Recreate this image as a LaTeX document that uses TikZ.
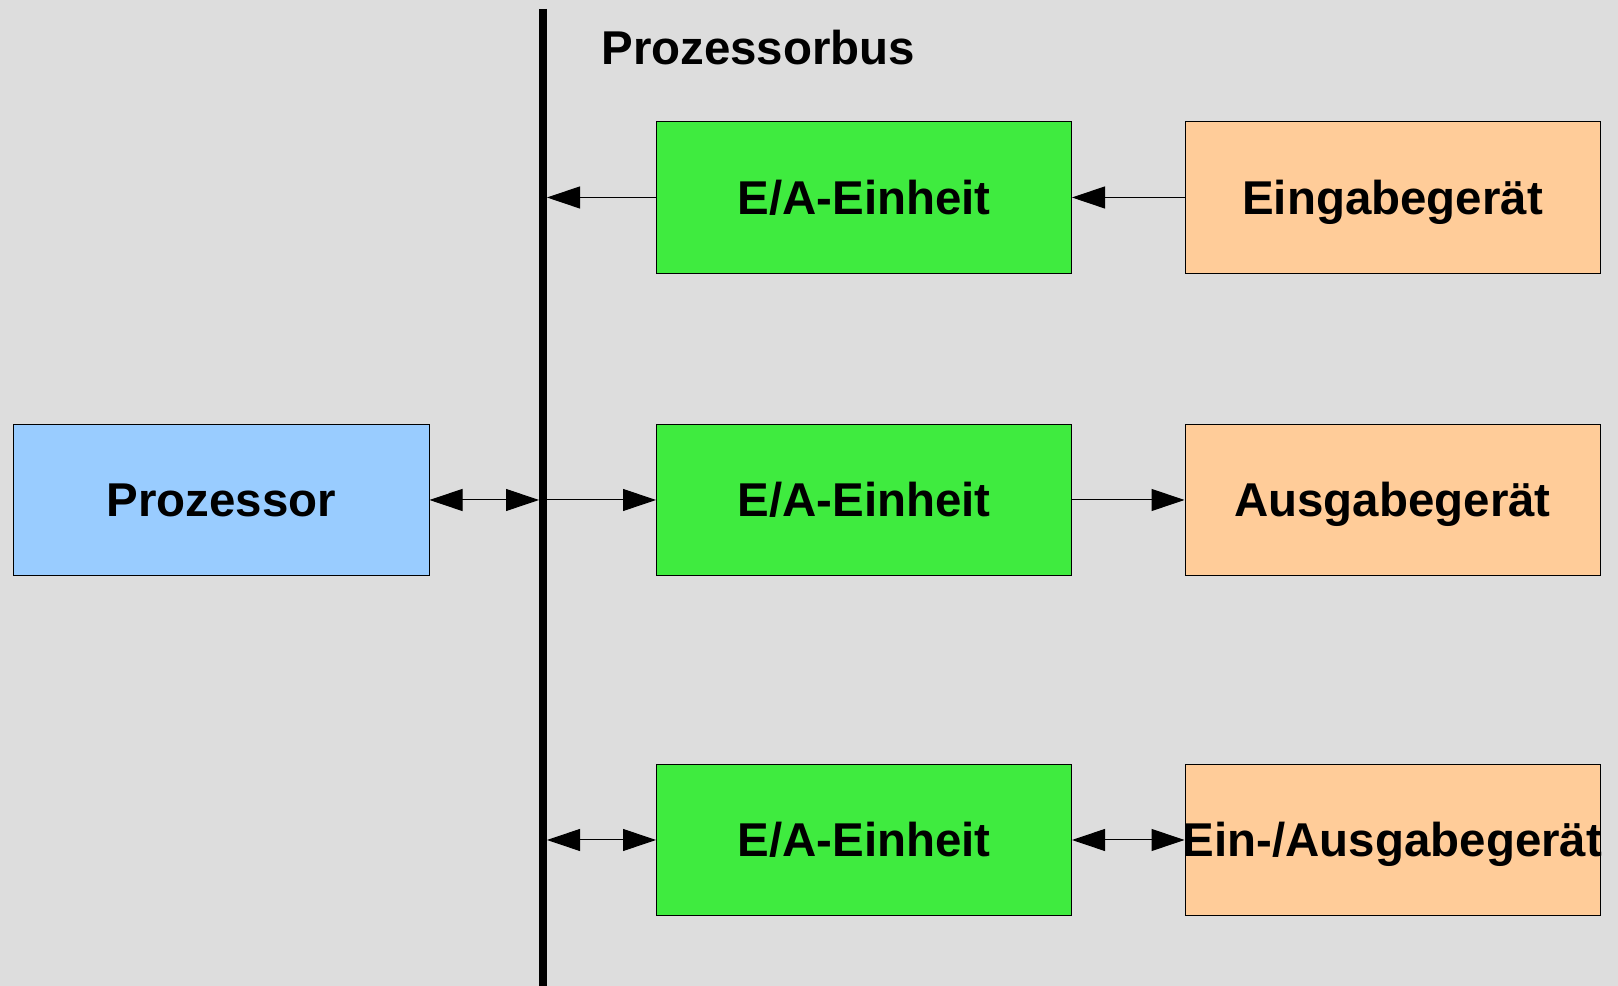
\documentclass[tikz,border=0pt]{standalone}
\usepackage{fontspec}
\setmainfont{Liberation Sans}
\usetikzlibrary{positioning,arrows.meta}
\definecolor{bgrey}{HTML}{DDDDDD}
\definecolor{cpublue}{HTML}{99CCFF}
\definecolor{eagreen}{HTML}{3FEB3F}
\definecolor{devorange}{HTML}{FFCC99}
\begin{document}
\begin{tikzpicture}
	  [
	    every node/.style       = {font=\fontsize{27}{32}\selectfont\bfseries},
	    unit/.style             = {
			draw, line width=0.02cm,
			minimum width=8.3cm,
			minimum height=3.03cm,
			text height=19.3pt,
			text depth=0pt,
			inner sep=0pt
		},
		cpu/.style				= {unit, fill=cpublue},
		eaunit/.style			= {unit, fill=eagreen},
		device/.style			= {unit, fill=devorange},
		link/.style				= {
			line width=0.02cm,
			-{Triangle[length=0.66cm,width=0.44cm]}
		},
		duplex/.style			= {
			link,
			{Triangle[length=0.66cm,width=0.44cm]}-{Triangle[length=0.66cm,width=0.44cm]}
		}
		]
		\fill[bgrey] (0,0) rectangle (32.36,19.72);
		\useasboundingbox (0,0) rectangle (32.36,19.72);
		% bus
		\coordinate (bustop) at (10.86,19.54);
		\coordinate (busbot) at (10.86,0);
		\draw[line width=0.16cm] (bustop) -- (busbot);
		\node[anchor=base west, inner sep=0pt] (buslabel) at (12.02,18.42) {Prozessorbus};
		% processor
		\node[cpu] (cpu) at (4.43,9.72) {Prozessor};
		% I/O units
		\node[eaunit] (ea1) at (17.28,15.77) {E/A-Einheit};
		\node[eaunit] (ea2) at (17.28,9.72) {E/A-Einheit};
		\node[eaunit] (ea3) at (17.28,2.92) {E/A-Einheit};
		% devices
		\node[device, right=2.25cm of ea1] (dev1) {Eingabegerät};
		\node[device, right=2.25cm of ea2] (dev2) {Ausgabegerät};
		\node[device, right=2.25cm of ea3] (dev3) {\makebox[0pt]{Ein-/Ausgabegerät}};
		% connections
		\draw[duplex, shorten >=0.08cm] (cpu.east) -- (cpu.east -| bustop);
		\draw[link, shorten >=0.08cm] (ea1.west) -- (ea1.west -| bustop);
		\draw[link] (ea2.west -| bustop) -- (ea2.west);
		\draw[duplex, shorten <=0.08cm] (ea3.west -| bustop) -- (ea3.west);
		\draw[link] (dev1.west) -- (ea1.east);
		\draw[link] (ea2.east) -- (dev2.west);
		\draw[duplex] (ea3.east) -- (dev3.west);
	\end{tikzpicture}
\end{document}
